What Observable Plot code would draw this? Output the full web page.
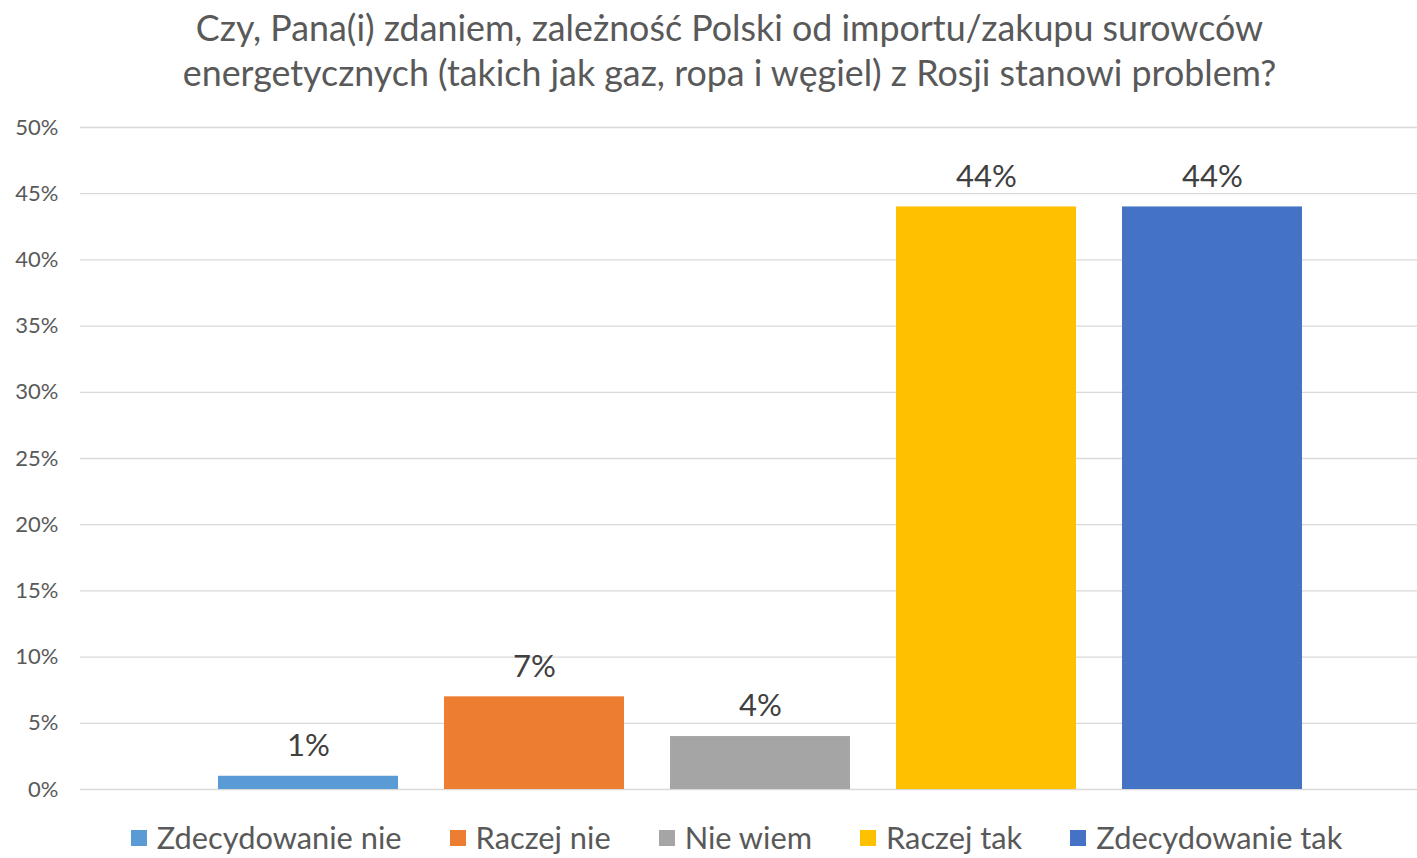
<!DOCTYPE html>
<html>
<head>
<meta charset="utf-8">
<script src="https://cdn.jsdelivr.net/npm/d3@7"></script>
<script src="https://cdn.jsdelivr.net/npm/@observablehq/plot@0.6"></script>
<style>
  html, body { margin: 0; padding: 0; background: #fff; }
  body { width: 1417px; height: 858px; overflow: hidden; font-family: Lato, "Open Sans", sans-serif; }
  #title { height: 105px; text-align: center; color: #595959; font-size: 35.8px; line-height: 45px; padding-top: 5px; padding-left: 42px; box-sizing: border-box; white-space: nowrap; }
  #chart svg { display: block; }
  #legend { display: flex; justify-content: center; align-items: center; color: #595959; font-size: 30.8px; margin-top: 4px; padding-left: 56px; white-space: nowrap; }
  .item { display: flex; align-items: center; margin: 0 24px; }
  .sw { width: 16px; height: 16px; margin-right: 10px; }
</style>
</head>
<body>
<div id="title">Czy, Pana(i) zdaniem, zależność Polski od importu/zakupu surowców<br>energetycznych (takich jak gaz, ropa i węgiel) z Rosji stanowi problem?</div>
<div id="chart"></div>
<div id="legend"></div>
<script>
const categories = ["Zdecydowanie nie", "Raczej nie", "Nie wiem", "Raczej tak", "Zdecydowanie tak"];
const values = [1, 7, 4, 44, 44];
const colors = ["#5B9BD5", "#ED7D31", "#A5A5A5", "#FFC000", "#4472C4"];
const yTicks = [0, 5, 10, 15, 20, 25, 30, 35, 40, 45, 50];

const data = categories.map((c, i) => ({category: c, value: values[i]}));

const chart = Plot.plot({
  width: 1417,
  height: 710,
  marginTop: 22,
  marginBottom: 26,
  marginLeft: 80,
  marginRight: 0,
  style: {fontFamily: "Lato, 'Open Sans', sans-serif", background: "#fff"},
  x: {domain: categories, range: [194, 1326], paddingInner: 0.204, paddingOuter: 0.102, axis: null},
  y: {domain: [0, 50], ticks: yTicks, tickFormat: d => d + "%"},
  color: {domain: categories, range: colors},
  marks: [
    Plot.ruleY(yTicks, {stroke: "#d9d9d9", strokeWidth: 1.3}),
    Plot.axisY({ticks: yTicks, tickFormat: d => d + "%", tickSize: 0, tickPadding: 22, fontSize: 22, fill: "#595959", label: null}),
    Plot.barY(data, {x: "category", y: "value", fill: "category"}),
    Plot.text(data, {x: "category", y: "value", text: d => d.value + "%", dy: -30, fontSize: 31, fill: "#404040"})
  ]
});
document.getElementById("chart").appendChild(chart);

const legend = document.getElementById("legend");
categories.forEach((c, i) => {
  const item = document.createElement("div");
  item.className = "item";
  const sw = document.createElement("div");
  sw.className = "sw";
  sw.style.background = colors[i];
  const label = document.createElement("span");
  label.textContent = c;
  item.appendChild(sw);
  item.appendChild(label);
  legend.appendChild(item);
});
</script>
</body>
</html>
